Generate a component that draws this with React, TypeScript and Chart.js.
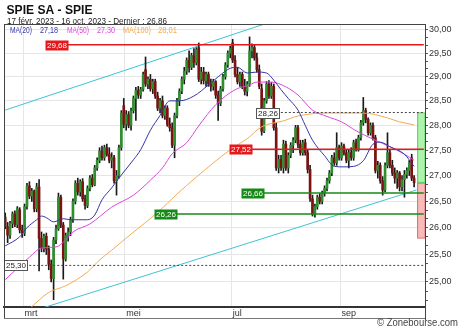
import React, { useEffect, useRef } from 'react';
import { Chart, registerables } from 'chart.js';

Chart.register(...registerables);
Chart.defaults.font.family = '"Liberation Sans", Arial, sans-serif';

// ---- OHLC per session (170 sessions, 17 Feb 2023 - 16 Oct 2023) ----
const opens = [
  26.20, 26.02, 25.86, 26.08, 26.26, 26.06, 26.34, 25.96, 25.90, 26.40,
  26.80, 26.60, 26.70, 26.36, 26.78, 25.80, 25.62, 25.84, 25.60, 25.32,
  25.06, 25.77, 25.98, 26.58, 26.05, 25.42, 25.85, 25.92, 26.15, 26.50,
  26.85, 26.68, 26.88, 26.55, 26.42, 26.75, 26.95, 26.82, 27.15, 27.30,
  27.48, 27.35, 27.55, 27.42, 27.30, 27.35, 26.90, 27.00, 27.55, 28.40,
  28.02, 28.22, 28.00, 28.30, 28.55, 28.72, 28.62, 28.74, 29.15, 28.85,
  28.95, 28.75, 28.90, 28.60, 28.35, 28.50, 28.20, 28.35, 28.02, 27.95,
  27.60, 28.20, 28.50, 28.70, 28.95, 29.12, 29.35, 29.20, 29.45, 29.30,
  29.62, 28.95, 29.10, 28.92, 29.05, 28.85, 28.80, 28.90, 28.62, 28.45,
  28.75, 29.00, 29.25, 29.50, 29.72, 29.35, 29.05, 28.90, 29.05, 28.80,
  28.70, 28.85, 29.55, 29.62, 29.40, 29.15, 28.75, 27.88, 28.50, 28.85,
  28.60, 28.80, 27.95, 27.15, 27.32, 27.15, 27.62, 27.15, 27.40, 27.60,
  27.70, 27.95, 27.62, 27.45, 27.65, 27.45, 27.12, 26.55, 26.25, 26.40,
  26.58, 26.50, 26.66, 26.75, 26.90, 27.05, 27.35, 27.25, 27.55, 27.35,
  27.58, 27.45, 27.30, 27.45, 27.35, 27.65, 27.52, 27.75, 28.05, 28.30,
  28.12, 27.85, 28.00, 27.75, 27.10, 27.20, 26.90, 26.72, 27.20, 27.45,
  27.20, 27.05, 26.95, 27.05, 26.78, 26.92, 27.02, 27.10, 27.35, 26.95,
];
const highs = [
  26.28, 26.10, 26.12, 26.30, 26.32, 26.40, 26.38, 26.05, 26.45, 26.85,
  26.88, 26.75, 26.72, 26.85, 26.92, 25.92, 25.88, 25.90, 25.66, 25.40,
  25.82, 26.05, 26.66, 26.62, 26.10, 25.90, 26.00, 26.20, 26.55, 26.90,
  26.95, 26.92, 26.94, 26.62, 26.80, 27.00, 27.02, 27.20, 27.35, 27.55,
  27.58, 27.60, 27.62, 27.55, 27.45, 27.40, 27.10, 27.60, 28.30, 28.55,
  28.30, 28.28, 28.35, 28.60, 28.78, 28.80, 28.78, 29.10, 29.42, 29.00,
  29.05, 28.95, 28.95, 28.68, 28.55, 28.60, 28.40, 28.40, 28.15, 28.05,
  28.25, 28.55, 28.75, 29.00, 29.20, 29.40, 29.55, 29.50, 29.60, 29.62,
  29.72, 29.20, 29.20, 29.10, 29.10, 28.95, 28.95, 28.92, 28.70, 28.80,
  29.05, 29.30, 29.55, 29.65, 29.80, 29.45, 29.20, 29.10, 29.10, 28.95,
  28.90, 29.85, 29.70, 29.68, 29.50, 29.25, 28.85, 28.55, 28.90, 28.92,
  28.88, 28.85, 28.05, 27.40, 27.40, 27.70, 27.68, 27.45, 27.65, 27.75,
  28.00, 28.00, 27.70, 27.70, 27.72, 27.50, 27.20, 26.62, 26.45, 26.62,
  26.65, 26.70, 26.80, 26.95, 27.10, 27.40, 27.45, 27.85, 27.60, 27.65,
  27.62, 27.50, 27.50, 27.55, 27.70, 27.72, 27.80, 28.10, 28.57, 28.35,
  28.15, 28.05, 28.05, 27.80, 27.28, 27.25, 26.98, 27.25, 27.85, 27.50,
  27.30, 27.15, 27.10, 27.08, 27.00, 27.10, 27.15, 27.30, 27.42, 27.00,
];
const lows = [
  25.98, 25.72, 25.80, 26.00, 26.02, 26.00, 25.90, 25.82, 25.85, 26.35,
  26.55, 26.50, 26.30, 26.30, 25.20, 25.55, 25.55, 25.50, 25.22, 25.00,
  24.68, 25.70, 25.95, 26.00, 25.05, 25.38, 25.75, 25.85, 26.10, 26.45,
  26.62, 26.60, 26.50, 26.35, 26.38, 26.70, 26.78, 26.80, 27.10, 27.25,
  27.30, 27.30, 27.38, 27.25, 27.15, 26.85, 26.62, 26.95, 27.50, 27.95,
  27.90, 27.95, 27.90, 28.25, 28.10, 28.55, 28.55, 28.70, 28.80, 28.75,
  28.70, 28.65, 28.55, 28.30, 28.25, 28.15, 28.12, 27.98, 27.88, 27.55,
  27.35, 28.15, 28.40, 28.65, 28.85, 29.05, 29.10, 29.15, 29.20, 29.25,
  28.90, 28.85, 28.85, 28.80, 28.80, 28.70, 28.72, 28.55, 28.10, 28.40,
  28.70, 28.95, 29.20, 29.40, 29.30, 29.00, 28.85, 28.80, 28.75, 28.62,
  28.60, 28.80, 29.40, 29.35, 29.10, 28.75, 27.80, 27.85, 28.45, 28.55,
  28.55, 27.90, 27.10, 27.05, 27.10, 27.05, 27.10, 27.05, 27.35, 27.45,
  27.65, 27.55, 27.40, 27.40, 27.40, 27.05, 26.50, 26.22, 26.20, 26.35,
  26.45, 26.45, 26.60, 26.70, 26.85, 27.00, 27.20, 27.20, 27.30, 27.30,
  27.40, 27.25, 27.15, 27.30, 27.30, 27.48, 27.48, 27.70, 28.00, 28.05,
  27.80, 27.80, 27.70, 27.05, 26.95, 26.85, 26.62, 26.68, 27.15, 27.15,
  27.00, 26.85, 26.75, 26.70, 26.70, 26.58, 26.95, 27.00, 26.90, 26.78,
];
const closes = [
  26.02, 25.86, 26.08, 26.26, 26.06, 26.36, 25.96, 25.90, 26.40, 26.80,
  26.60, 26.70, 26.36, 26.78, 25.80, 25.62, 25.84, 25.60, 25.32, 25.06,
  25.77, 25.98, 26.58, 26.05, 25.42, 25.85, 25.92, 26.15, 26.50, 26.85,
  26.68, 26.88, 26.55, 26.42, 26.75, 26.95, 26.82, 27.15, 27.30, 27.48,
  27.35, 27.55, 27.42, 27.30, 27.35, 26.90, 27.00, 27.55, 28.25, 28.02,
  28.22, 28.00, 28.30, 28.55, 28.72, 28.62, 28.74, 29.05, 28.85, 28.95,
  28.75, 28.90, 28.60, 28.35, 28.50, 28.20, 28.35, 28.02, 27.95, 27.60,
  28.20, 28.50, 28.70, 28.95, 29.12, 29.35, 29.20, 29.45, 29.30, 29.58,
  28.95, 29.10, 28.92, 29.05, 28.85, 28.80, 28.90, 28.62, 28.45, 28.75,
  29.00, 29.25, 29.50, 29.60, 29.35, 29.05, 28.90, 29.05, 28.80, 28.70,
  28.85, 29.55, 29.62, 29.40, 29.15, 28.80, 27.88, 28.50, 28.85, 28.60,
  28.80, 27.95, 27.15, 27.32, 27.15, 27.62, 27.15, 27.40, 27.60, 27.70,
  27.95, 27.62, 27.45, 27.65, 27.45, 27.12, 26.55, 26.25, 26.40, 26.58,
  26.50, 26.66, 26.75, 26.90, 27.05, 27.35, 27.25, 27.55, 27.35, 27.58,
  27.45, 27.30, 27.45, 27.35, 27.65, 27.52, 27.75, 28.05, 28.30, 28.12,
  27.85, 28.00, 27.75, 27.10, 27.20, 26.90, 26.72, 27.20, 27.45, 27.20,
  27.05, 26.95, 27.05, 26.78, 26.92, 27.02, 27.10, 27.25, 26.95, 26.86,
];

// ---- categories ----
const sessionCount = 174; // 170 sessions + 4 empty slots at the right
const sessions = Array.from({ length: sessionCount }, (_, i) => 's' + i);
const monthLabels = ['mrt', 'mei', 'jul', 'sep'];
const monthStarts = [8, 50, 94, 139];

// ---- moving averages [session, value] ----
const ma20 = [
  [0, 25.66], [6, 25.83], [9, 26.0], [13, 26.15], [15, 26.22], [17, 26.19], [20, 26.11],
  [24, 26.17], [27, 26.15], [34, 26.15], [37, 26.24], [40, 26.53], [44, 26.76], [47, 26.95],
  [53, 27.31], [56, 27.51], [60, 27.9], [64, 28.2], [68, 28.5], [72, 28.5], [78, 28.6],
  [84, 28.83], [88, 29.0], [93, 29.18], [96, 29.2], [100, 29.08], [104, 29.1], [108, 29.08],
  [111, 28.93], [114, 28.73], [117, 28.55], [121, 28.31], [124, 28.0], [127, 27.7],
  [132, 27.39], [136, 27.18], [140, 27.17], [144, 27.18], [148, 27.29], [152, 27.62],
  [155, 27.66], [159, 27.57], [165, 27.42], [169, 27.18],
];
const ma50 = [
  [0, 25.04], [10, 25.45], [15, 25.62], [21, 25.64], [25, 25.77], [28, 25.92], [35, 26.07],
  [44, 26.39], [53, 26.62], [60, 26.91], [65, 27.15], [69, 27.43], [75, 27.65], [80, 27.99],
  [87, 28.42], [95, 28.73], [101, 28.83], [104, 28.89], [110, 28.89], [116, 28.79],
  [121, 28.62], [127, 28.31], [133, 28.18], [139, 28.07], [145, 27.89], [152, 27.72],
  [159, 27.57], [165, 27.42], [169, 27.3],
];
const ma100 = [
  [10, 24.52], [18, 24.81], [25, 24.93], [34, 25.18], [39, 25.4], [44, 25.58], [52, 25.88],
  [63, 26.29], [71, 26.64], [79, 26.97], [93, 27.51], [100, 27.73], [106, 27.97], [115, 28.09],
  [121, 28.19], [134, 28.25], [148, 28.25], [158, 28.15], [163, 28.07], [169, 28.01],
];

// ---- trend channel [session, value] ----
const upperTrend = [[0, 28.31], [110, 30.18]];
const lowerTrend = [[16, 24.54], [170, 26.72]];

// ---- horizontal levels ----
const levelValues = [29.68, 27.52, 26.66, 26.26, 28.26, 25.3];
const levelStarts = [17, 93, 98, 62, 104, 0];
const levelKinds = ['res', 'res', 'sup', 'sup', 'ref', 'ref'];

// ---- projection boxes ----
const boxSlot = 172;
const targetHigh = 28.26;
const targetLow = 25.8;

const yMin = 24.55;
const yMax = 30.13;

const UP = '#2f8f2f';
const DOWN = '#7d1212';
const RED = '#e3191c';
const GREEN = '#168a16';
const C20 = '#3535a8';
const C50 = '#dc46dc';
const C100 = '#f2ac55';
const CYAN = '#3fc3d3';

const fmt = (v: number) => v.toFixed(2).replace('.', ',');
const isMajor = (v: number) => Math.abs(v * 2 - Math.round(v * 2)) < 1e-6;

const yTicks: number[] = [];
for (let k = 148; k <= 180; k++) yTicks.push(k / 6);

function drawText(ctx: CanvasRenderingContext2D, text: string, x: number, y: number, font: string, color: string, targetW?: number, align: 'left' | 'right' = 'left') {
  ctx.save();
  ctx.font = font;
  ctx.fillStyle = color;
  ctx.textBaseline = 'alphabetic';
  ctx.textAlign = 'left';
  const w = ctx.measureText(text).width;
  const s = targetW ? targetW / w : 1;
  const x0 = align === 'right' ? x - w * s : x;
  ctx.translate(x0, y);
  ctx.scale(s, 1);
  ctx.fillText(text, 0, 0);
  ctx.restore();
}

const decorPlugin = {
  id: 'decor',
  afterDatasetsDraw(chart: any) {
    const { ctx } = chart;
    const xs = chart.scales.x;
    const ys = chart.scales.y;
    levelValues.forEach((v, k) => {
      const kind = levelKinds[k];
      const y = ys.getPixelForValue(v);
      const left = Math.round(xs.getPixelForValue(levelStarts[k]) - 1) + 0.5;
      const w = 23;
      const h = 10;
      const top = Math.round(y - h / 2) + 0.5;
      ctx.save();
      ctx.fillStyle = kind === 'res' ? RED : kind === 'sup' ? GREEN : '#ffffff';
      ctx.fillRect(left, top, w, h);
      if (kind === 'ref') {
        ctx.strokeStyle = '#555';
        ctx.lineWidth = 1;
        ctx.strokeRect(left, top, w, h);
      }
      ctx.fillStyle = kind === 'ref' ? '#222' : '#ffffff';
      ctx.font = '8px "Liberation Sans", Arial, sans-serif';
      ctx.textAlign = 'center';
      ctx.textBaseline = 'middle';
      ctx.fillText(fmt(v), left + w / 2, top + h / 2 + 0.5);
      ctx.restore();
    });
  },
  afterDraw(chart: any) {
    const { ctx, chartArea } = chart;
    const { left, right, top, bottom } = chartArea;
    ctx.save();
    ctx.strokeStyle = '#444';
    ctx.lineWidth = 1;
    ctx.beginPath();
    ctx.moveTo(left + 0.5, top);
    ctx.lineTo(left + 0.5, bottom + 12);
    ctx.moveTo(left, top + 0.5);
    ctx.lineTo(right + 1, top + 0.5);
    ctx.moveTo(right + 0.5, top);
    ctx.lineTo(right + 0.5, bottom + 13);
    ctx.stroke();
    ctx.strokeStyle = '#777';
    ctx.beginPath();
    ctx.moveTo(left, bottom + 11.5);
    ctx.lineTo(right, bottom + 11.5);
    ctx.stroke();
    ctx.restore();

    const F = '"Liberation Sans", Arial, sans-serif';
    drawText(ctx, 'SPIE SA - SPIE', 6.5, 14, 'bold 12.5px ' + F, '#111', 86);
    drawText(ctx, '17 févr. 2023 - 16 oct. 2023 - Dernier : ' + fmt(closes[closes.length - 1]), 7, 24, '9.5px ' + F, '#222', 160);
    const lf = '8.5px ' + F;
    drawText(ctx, 'MA(20)', 10, 33, lf, C20, 22);
    drawText(ctx, fmt(ma20[ma20.length - 1][1]), 40, 33, lf, C20, 18);
    drawText(ctx, 'MA(50)', 67, 33, lf, C50, 22);
    drawText(ctx, fmt(ma50[ma50.length - 1][1]), 97, 33, lf, C50, 18);
    drawText(ctx, 'MA(100)', 123, 33, lf, C100, 28);
    drawText(ctx, fmt(ma100[ma100.length - 1][1]), 158, 33, lf, C100, 19);
    drawText(ctx, '© Zonebourse.com', 458, 326, '10px ' + F, '#444', 81, 'right');
  },
};

const pts = (arr: number[][]) => arr.map(([i, v]) => ({ x: sessions[i], y: v }));

export default function App() {
  const ref = useRef<HTMLCanvasElement | null>(null);
  useEffect(() => {
    if (!ref.current) return;
    const lastClose = closes[closes.length - 1];
    const levelDatasets = levelValues.map((v, k) => {
      const kind = levelKinds[k];
      return {
        type: 'line' as const,
        data: [
          { x: sessions[levelStarts[k]], y: v },
          { x: sessions[sessionCount - 1], y: v },
        ],
        borderColor: kind === 'res' ? RED : kind === 'sup' ? GREEN : '#444',
        borderWidth: kind === 'ref' ? 1 : 1.5,
        borderDash: kind === 'ref' ? [2, 2] : [],
        pointRadius: 0,
        order: 0,
      };
    });
    const maDs = (arr: number[][], color: string) => ({
      type: 'line' as const,
      data: pts(arr),
      borderColor: color,
      borderWidth: 1,
      pointRadius: 0,
      cubicInterpolationMode: 'monotone' as const,
      order: 1,
    });
    const boxData = (a: number, b: number) => sessions.map((_, i) => (i === boxSlot ? [a, b] : null));
    const chart = new Chart(ref.current, {
      type: 'bar',
      data: {
        labels: sessions,
        datasets: [
          ...levelDatasets,
          maDs(ma20, C20),
          maDs(ma50, C50),
          maDs(ma100, C100),
          {
            type: 'bar',
            data: opens.map((o, i) => [o, closes[i]]),
            backgroundColor: closes.map((c, i) => (c >= opens[i] ? UP : DOWN)),
            barThickness: 2,
            grouped: false,
            order: 2,
          } as any,
          {
            type: 'bar',
            data: lows.map((l, i) => [l, highs[i]]),
            backgroundColor: '#1a1a1a',
            barThickness: 1,
            grouped: false,
            order: 3,
          } as any,
          {
            type: 'line',
            data: pts(upperTrend),
            borderColor: CYAN,
            borderWidth: 1,
            pointRadius: 0,
            order: 4,
          },
          {
            type: 'line',
            data: pts(lowerTrend),
            borderColor: CYAN,
            borderWidth: 1,
            pointRadius: 0,
            order: 4,
          },
          {
            type: 'bar',
            data: boxData(lastClose, targetHigh),
            backgroundColor: 'rgba(160,240,160,0.85)',
            borderColor: '#5fd35f',
            borderWidth: 1,
            borderSkipped: false,
            barThickness: 8,
            grouped: false,
            order: 5,
          } as any,
          {
            type: 'bar',
            data: boxData(targetLow, lastClose),
            backgroundColor: 'rgba(246,180,180,0.9)',
            borderColor: '#e06a6a',
            borderWidth: 1,
            borderSkipped: false,
            barThickness: 8,
            grouped: false,
            order: 5,
          } as any,
        ],
      },
      options: {
        responsive: false,
        animation: false,
        events: [],
        layout: { padding: { left: 4, top: 24, right: 0, bottom: 0 } },
        plugins: { legend: { display: false }, tooltip: { enabled: false }, title: { display: false } },
        scales: {
          x: {
            type: 'category',
            offset: true,
            afterFit: (s: any) => {
              s.height = 24;
            },
            border: { display: true, color: '#333', width: 2 },
            grid: {
              offset: true,
              drawTicks: false,
              color: (c: any) => (monthStarts.includes(c.index) ? '#e6e6e6' : 'rgba(0,0,0,0)'),
            },
            ticks: {
              autoSkip: false,
              maxRotation: 0,
              align: 'start',
              padding: 1,
              color: '#333',
              font: { size: 9 },
              callback: (_v: any, i: number) => {
                const k = monthStarts.indexOf(i);
                return k >= 0 ? monthLabels[k] : '';
              },
            },
          },
          y: {
            type: 'logarithmic',
            position: 'right',
            min: yMin,
            max: yMax,
            afterFit: (s: any) => {
              s.width = 35;
            },
            afterBuildTicks: (s: any) => {
              s.ticks = yTicks.map((v) => ({ value: v }));
            },
            border: { display: true, color: '#444' },
            grid: {
              color: (c: any) => (c.tick && isMajor(c.tick.value) ? '#e6e6e6' : 'rgba(0,0,0,0)'),
              tickColor: '#555',
              tickLength: 3,
            },
            ticks: {
              autoSkip: false,
              padding: 1,
              color: '#333',
              font: { size: 9 },
              callback: (v: any) => (isMajor(Number(v)) ? fmt(Number(v)) : ''),
            },
          },
        },
      },
      plugins: [decorPlugin],
    } as any);
    return () => chart.destroy();
  }, []);
  return (
    <div style={{ position: 'fixed', left: 0, top: 0, width: 460, height: 331, background: '#fff' }}>
      <canvas ref={ref} width={460} height={331} />
    </div>
  );
}
